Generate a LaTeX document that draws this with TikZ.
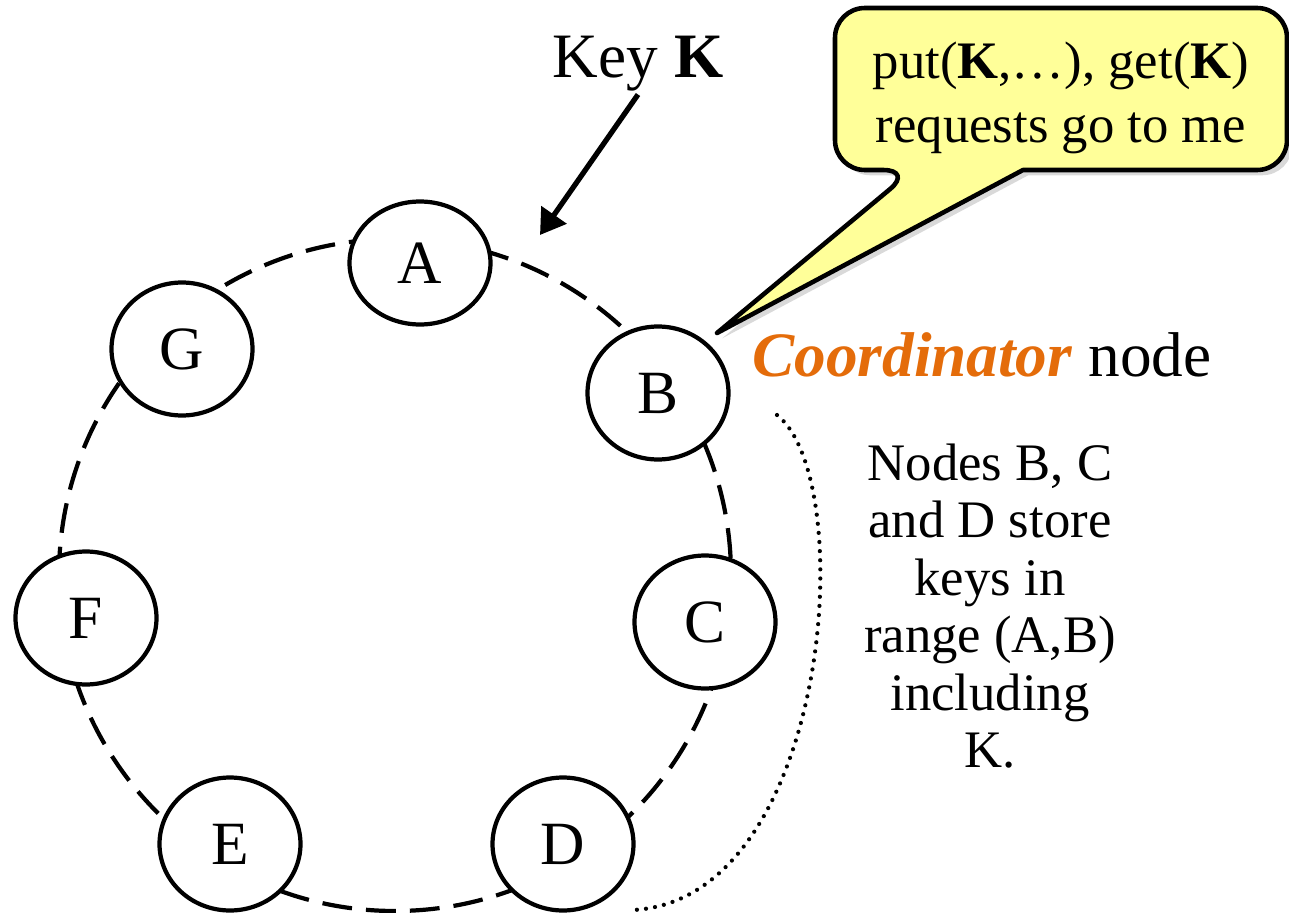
\documentclass[tikz,border=0pt]{standalone}
\usepackage{fontspec}
\setmainfont{Liberation Serif}
\usetikzlibrary{shapes.geometric,arrows.meta,shadows}
\definecolor{calloutyellow}{RGB}{255,255,153}
\definecolor{coordorange}{RGB}{228,108,10}
\begin{document}
\begin{tikzpicture}[x=0.02cm,y=-0.02cm,
    ring/.style={line width=2.4pt,dash pattern=on 17pt off 8pt},
    peer/.style={ellipse,draw,line width=2.4pt,fill=white,minimum width=2.82cm,minimum height=2.66cm,inner sep=0pt,font=\fontsize{35}{42}\selectfont},
    callout/.style={draw,line width=2.6pt,fill=calloutyellow,line join=round,drop shadow={shadow xshift=3pt,shadow yshift=-3pt,opacity=0.3}},
    rangearc/.style={line width=2.4pt,line cap=round,dash pattern=on 0pt off 5.2pt}]
\useasboundingbox (0,0) rectangle (1289,913);
% the ring
\draw[ring] (395,575) circle[radius=336];
\node[peer,minimum height=2.46cm] (A) at (420,263) {A};
\node[peer] (B) at (658,393) {B};
\node[peer] (C) at (705,622) {C};
\node[peer] (D) at (563,844) {D};
\node[peer] (E) at (230,844) {E};
\node[peer] (F) at (86,618) {F};
\node[peer] (G) at (182,349) {G};

% key and where it lands
\node[anchor=base,inner sep=2pt,font=\fontsize{36}{42}\selectfont] (key) at (638,77) {Key \textbf{K}};
\coordinate (keyhit) at (540,235);
\draw[line width=3pt,-{Triangle[length=14pt,width=17pt]}] (key.south) -- (keyhit);

% speech bubble for B
\draw[callout] (913,170) -- (717,333) -- (1023,170) [rounded corners=17pt] -- (1287,170) -- (1287,8) -- (835,8) -- (835,170) -- cycle;
\node[align=center,inner sep=0pt,font=\fontsize{30}{36.4}\selectfont] (bubble) at (1061,98) {put(\textbf{K},…), get(\textbf{K})\\requests go to me};
\node[anchor=base west,inner sep=0pt,font=\fontsize{36}{42}\selectfont] (coord) at (752,376) {\textcolor{coordorange}{\textbf{\textit{Coordinator}}} node};

% replicas
\coordinate (rangetop) at (777,415);
\coordinate (rangebot) at (633,910);
\draw[rangearc] (rangetop) .. controls (860,480) and (830,900) .. (rangebot);
\node[align=center,inner sep=0pt,font=\fontsize{30}{32.7}\selectfont] (range) at (990,606) {Nodes B, C\\and D store\\keys in\\range (A,B)\\including\\K.};
\end{tikzpicture}
\end{document}
